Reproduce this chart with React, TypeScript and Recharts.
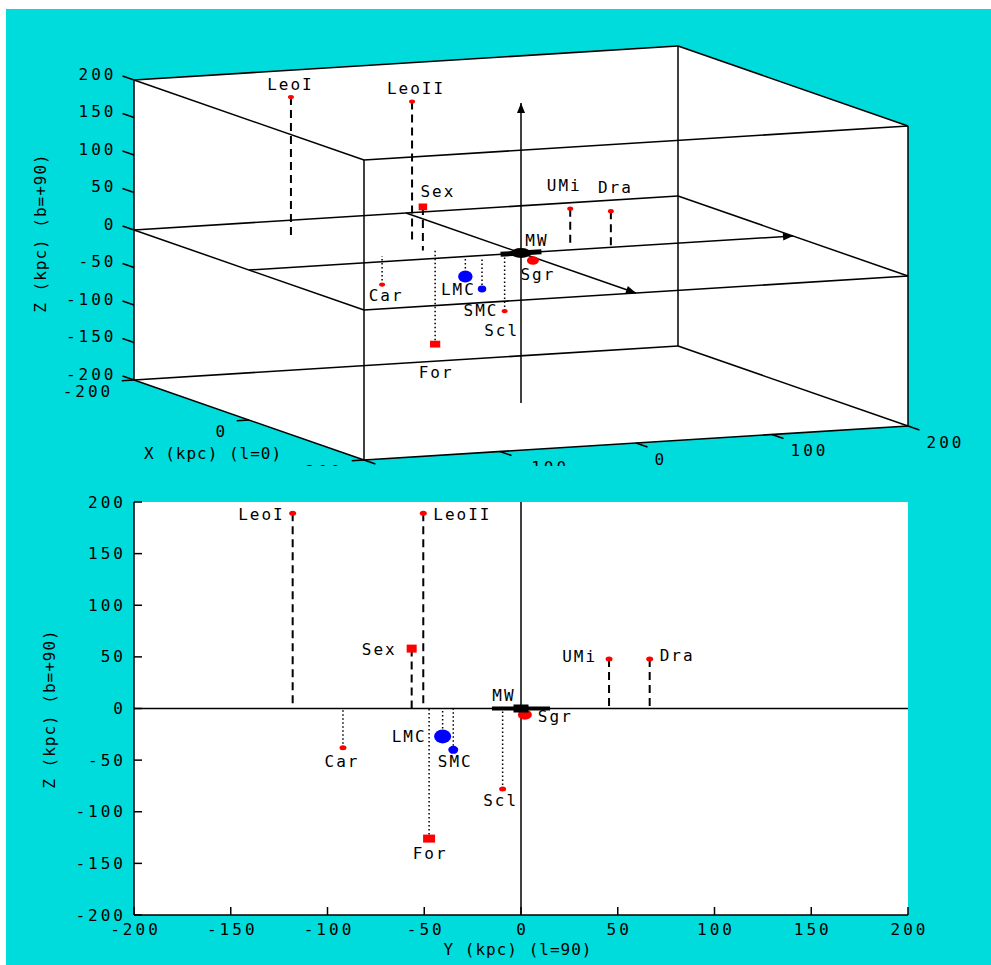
import { ReferenceArea, ReferenceLine, Scatter, ScatterChart, XAxis, YAxis } from 'recharts'

// Galactocentric positions of the Milky Way satellites, kpc
const satellites = ['LeoI', 'LeoII', 'Sex', 'Car', 'LMC', 'SMC', 'For', 'Scl', 'Sgr', 'UMi', 'Dra']
const xKpc = [-121, -70, -37, -24, -1, 15, -37, -6, 16, -22, -1]
const yKpc = [-118, -50.5, -56.5, -92, -40.5, -35, -47.5, -9.5, 2, 45.5, 66.5]
const zKpc = [189, 189, 58, -38, -27, -40, -126, -78, -6, 48, 48]

const sideTicks = [-200, -150, -100, -50, 0, 50, 100, 150, 200]
const boxXTicks = [-200, 0, 200]
const boxYTicks = [-200, -100, 0, 100, 200]
const boxZTicks = [-200, -150, -100, -50, 0, 50, 100, 150, 200]
const BOX = 200
const MW_DISK = 15

const CYAN = '#00dcdc'
const RED = '#ff0000'
const BLUE = '#0000ff'
const MONO = '"DejaVu Sans Mono", "Liberation Mono", monospace'
const labelFont = { fontFamily: MONO, fontSize: 16, letterSpacing: 2, fill: '#000' }
const tickFont = { fontFamily: MONO, fontSize: 16, letterSpacing: 3, fill: '#000' }
const titleFont = { fontFamily: MONO, fontSize: 16, letterSpacing: 1, fill: '#000' }
const axisStroke = { stroke: '#000', strokeWidth: 1.5 }

type Anchor = 'start' | 'middle' | 'end'
type Place = [number, number, Anchor]

const markerStyle: Record<string, { color: string; kind: 'dot' | 'box'; w: number; h: number }> = {
  LeoI: { color: RED, kind: 'dot', w: 7, h: 5 },
  LeoII: { color: RED, kind: 'dot', w: 7, h: 5 },
  Sex: { color: RED, kind: 'box', w: 10, h: 8 },
  Car: { color: RED, kind: 'dot', w: 7, h: 5 },
  LMC: { color: BLUE, kind: 'dot', w: 17, h: 14 },
  SMC: { color: BLUE, kind: 'dot', w: 10, h: 8 },
  For: { color: RED, kind: 'box', w: 12, h: 8 },
  Scl: { color: RED, kind: 'dot', w: 7, h: 5 },
  Sgr: { color: RED, kind: 'dot', w: 14, h: 10 },
  UMi: { color: RED, kind: 'dot', w: 7, h: 5 },
  Dra: { color: RED, kind: 'dot', w: 7, h: 5 },
}

const sideLabel: Record<string, Place> = {
  LeoI: [-8, 1, 'end'], LeoII: [10, 1, 'start'], Sex: [-15, 1, 'end'], Car: [-1, 14, 'middle'],
  LMC: [-16, 0, 'end'], SMC: [2, 12, 'middle'], For: [1, 15, 'middle'], Scl: [-2, 11, 'middle'],
  Sgr: [13, 2, 'start'], UMi: [-12, -2, 'end'], Dra: [10, -3, 'start'], MW: [-17, -13, 'middle'],
}
const boxLabel: Record<string, Place> = {
  LeoI: [-0.5, -13, 'middle'], LeoII: [4, -13, 'middle'], Sex: [15, -15, 'middle'], Car: [4, 11, 'middle'],
  LMC: [-7, 13, 'middle'], SMC: [-1, 22, 'middle'], For: [1, 28, 'middle'], Scl: [-3, 19, 'middle'],
  Sgr: [5, 14, 'middle'], UMi: [-6, -23, 'middle'], Dra: [4.5, -24, 'middle'], MW: [16, -13, 'middle'],
}

// 3-D view: screen units per kpc along each axis (u to the right, v up)
const VIEW = {
  x: { u: 0.575, v: -0.2 },
  y: { u: 1.36, v: 0.085 },
  z: { u: 0, v: 0.75 },
}
const project = (x: number, y: number, z: number) => ({
  u: VIEW.x.u * x + VIEW.y.u * y + VIEW.z.u * z,
  v: VIEW.x.v * x + VIEW.y.v * y + VIEW.z.v * z,
})
const seg = (a: number[], b: number[]) => {
  const p = project(a[0], a[1], a[2])
  const q = project(b[0], b[1], b[2])
  return [{ x: p.u, y: p.v }, { x: q.u, y: q.v }]
}

function satelliteShape(places: Record<string, Place>, shrink: number) {
  return (p: any) => {
    const { cx, cy, payload } = p
    const m = markerStyle[payload.name]
    const [dx, dy, anchor] = places[payload.name]
    const w = m.w * shrink
    const h = m.h * shrink
    return (
      <g>
        {m.kind === 'box'
          ? <rect x={cx - w / 2} y={cy - h / 2} width={w} height={h} fill={m.color} />
          : <ellipse cx={cx} cy={cy} rx={w / 2} ry={h / 2} fill={m.color} />}
        <text x={cx + dx} y={cy + dy} textAnchor={anchor} dominantBaseline="central" style={labelFont}>{payload.name}</text>
      </g>
    )
  }
}

function tickText(dx: number, dy: number, anchor: Anchor) {
  return (p: any) => (
    <text x={p.cx + dx} y={p.cy + dy} textAnchor={anchor} dominantBaseline="central" style={tickFont}>{p.payload.label}</text>
  )
}

function arrowShape(p: any) {
  const { cx, cy, payload } = p
  const [dx, dy] = payload.dir
  const len = 10
  const half = 4
  const bx = cx - dx * len
  const by = cy - dy * len
  return <polygon points={`${cx},${cy} ${bx - dy * half},${by + dx * half} ${bx + dy * half},${by - dx * half}`} fill="#000" />
}

function BoxView() {
  const hull = [[-1, -1, 1], [-1, 1, 1], [1, 1, 1], [1, 1, -1], [1, -1, -1], [-1, -1, -1]].map(([a, b, c]) => project(a * BOX, b * BOX, c * BOX))
  const edges: number[][][] = []
  for (const a of [-BOX, BOX]) {
    for (const b of [-BOX, BOX]) {
      edges.push([[-BOX, a, b], [BOX, a, b]])
      edges.push([[a, -BOX, b], [a, BOX, b]])
      edges.push([[a, b, -BOX], [a, b, BOX]])
    }
    edges.push([[-BOX, a, 0], [BOX, a, 0]])
    edges.push([[a, -BOX, 0], [a, BOX, 0]])
  }
  const axes = [
    { from: [-BOX, 0, 0], to: [BOX, 0, 0], unit: [1, 0, 0] },
    { from: [0, -BOX, 0], to: [0, BOX, 0], unit: [0, 1, 0] },
    { from: [0, 0, -BOX], to: [0, 0, BOX], unit: [0, 0, 1] },
  ]
  const arrows = axes.map(a => {
    const tip = project(a.to[0], a.to[1], a.to[2])
    const d = project(a.unit[0], a.unit[1], a.unit[2])
    const n = Math.hypot(d.u, d.v)
    return { ...tip, dir: [d.u / n, -d.v / n] }
  })
  const pts = satellites.map((name, i) => ({ name, ...project(xKpc[i], yKpc[i], zKpc[i]) }))
  const zTickLabels = boxZTicks.map(t => ({ label: String(t), ...project(-BOX - 20, -BOX, t) }))
  const xTickLabels = boxXTicks.map(t => ({ label: String(t), ...project(t, -BOX - 9, -BOX) }))
  const yTickLabels = boxYTicks.map(t => ({ label: String(t), ...project(BOX + 20, t, -BOX) }))

  return (
    <ScatterChart width={991} height={466} margin={{ top: 0, right: 0, bottom: 0, left: 0 }}>
      <XAxis type="number" dataKey="u" domain={[-521, 470]} allowDataOverflow hide />
      <YAxis type="number" dataKey="v" domain={[-213, 253]} allowDataOverflow hide />
      <Scatter data={hull} line={{ fill: '#fff', stroke: 'none' }} shape={() => <g />} zIndex={-1000} isAnimationActive={false} />
      {edges.map((e, i) => (
        <ReferenceLine key={`e${i}`} segment={seg(e[0], e[1])} stroke="#000" strokeWidth={1.5} ifOverflow="visible" />
      ))}
      {axes.map((a, i) => (
        <ReferenceLine key={`a${i}`} segment={seg(a.from, a.to)} stroke="#000" strokeWidth={1.5} ifOverflow="visible" />
      ))}
      {boxZTicks.map(t => (
        <ReferenceLine key={`zt${t}`} segment={seg([-BOX, -BOX, t], [-BOX - 20, -BOX, t])} stroke="#000" strokeWidth={1.5} ifOverflow="visible" />
      ))}
      {boxXTicks.map(t => (
        <ReferenceLine key={`xt${t}`} segment={seg([t, -BOX, -BOX], [t, -BOX - 9, -BOX])} stroke="#000" strokeWidth={1.5} ifOverflow="visible" />
      ))}
      {boxYTicks.map(t => (
        <ReferenceLine key={`yt${t}`} segment={seg([BOX, t, -BOX], [BOX + 20, t, -BOX])} stroke="#000" strokeWidth={1.5} ifOverflow="visible" />
      ))}
      {satellites.map((n, i) => Math.abs(zKpc[i]) > 10 ? (
        <ReferenceLine
          key={`d${n}`}
          segment={seg([xKpc[i], yKpc[i], zKpc[i]], [xKpc[i], yKpc[i], 0])}
          stroke="#000"
          strokeWidth={zKpc[i] > 0 ? 2 : 1.5}
          strokeDasharray={zKpc[i] > 0 ? '8 5' : '1.5 2.5'}
          ifOverflow="visible"
        />
      ) : null)}
      <ReferenceLine segment={seg([0, -MW_DISK, 0], [0, MW_DISK, 0])} stroke="#000" strokeWidth={5} ifOverflow="visible" />
      <Scatter data={arrows} shape={arrowShape} isAnimationActive={false} />
      <Scatter data={zTickLabels} shape={tickText(-6, -2, 'end')} isAnimationActive={false} />
      <Scatter data={xTickLabels} shape={tickText(-8.5, 11, 'end')} isAnimationActive={false} />
      <Scatter data={yTickLabels} shape={tickText(7, 12, 'start')} isAnimationActive={false} />
      <Scatter data={pts} shape={satelliteShape(boxLabel, 0.85)} isAnimationActive={false} />
      <Scatter
        data={[{ name: 'MW', ...project(0, 0, 0) }]}
        shape={(p: any) => (
          <g>
            <ellipse cx={p.cx} cy={p.cy} rx={10} ry={5} fill="#000" />
            <text x={p.cx + boxLabel.MW[0]} y={p.cy + boxLabel.MW[1]} textAnchor="middle" dominantBaseline="central" style={labelFont}>MW</text>
          </g>
        )}
        isAnimationActive={false}
      />
      <text x={40} y={233} transform="rotate(-90 40 233)" textAnchor="middle" dominantBaseline="central" style={titleFont}>Z (kpc) (b=+90)</text>
      <text x={213} y={453} textAnchor="middle" dominantBaseline="central" style={titleFont}>X (kpc) (l=0)</text>
    </ScatterChart>
  )
}

const BottomTick = (p: any) => (
  <g>
    <line x1={p.x} y1={p.y} x2={p.x} y2={p.y - 8} stroke="#000" strokeWidth={1.5} />
    <text x={p.x + 1.5} y={p.y + 14} textAnchor="middle" dominantBaseline="central" style={tickFont}>{p.payload.value}</text>
  </g>
)
const TopTick = (p: any) => <line x1={p.x} y1={p.y} x2={p.x} y2={p.y + 8} stroke="#000" strokeWidth={1.5} />
const LeftTick = (p: any) => (
  <g>
    <line x1={p.x} y1={p.y} x2={p.x + 8} y2={p.y} stroke="#000" strokeWidth={1.5} />
    <text x={p.x - 8} y={p.y} textAnchor="end" dominantBaseline="central" style={tickFont}>{p.payload.value}</text>
  </g>
)
const RightTick = (p: any) => <line x1={p.x} y1={p.y} x2={p.x - 8} y2={p.y} stroke="#000" strokeWidth={1.5} />

function SideView() {
  const pts = satellites.map((name, i) => ({ name, y: yKpc[i], z: zKpc[i] }))
  return (
    <ScatterChart width={991} height={499} margin={{ top: 36, right: 83, bottom: 0, left: 0 }}>
      <ReferenceArea x1={-BOX} x2={BOX} y1={-BOX} y2={BOX} fill="#fff" fillOpacity={1} stroke="none" zIndex={-1000} ifOverflow="visible" />
      <XAxis type="number" dataKey="y" domain={[-BOX, BOX]} ticks={sideTicks} interval={0} allowDataOverflow height={50}
        tickSize={0} tickMargin={0} tickLine={false} axisLine={axisStroke} tick={BottomTick} />
      <XAxis xAxisId="top" orientation="top" type="number" domain={[-BOX, BOX]} ticks={sideTicks} interval={0} allowDataOverflow height={0}
        tickSize={0} tickMargin={0} tickLine={false} axisLine={axisStroke} tick={TopTick} />
      <YAxis type="number" dataKey="z" domain={[-BOX, BOX]} ticks={sideTicks} interval={0} allowDataOverflow width={134}
        tickSize={0} tickMargin={0} tickLine={false} axisLine={axisStroke} tick={LeftTick} />
      <YAxis yAxisId="right" orientation="right" type="number" domain={[-BOX, BOX]} ticks={sideTicks} interval={0} allowDataOverflow width={0}
        tickSize={0} tickMargin={0} tickLine={false} axisLine={axisStroke} tick={RightTick} />
      <ReferenceLine y={0} stroke="#000" strokeWidth={1.5} />
      <ReferenceLine x={0} stroke="#000" strokeWidth={1.5} />
      {satellites.map((n, i) => Math.abs(zKpc[i]) > 10 ? (
        <ReferenceLine
          key={`d${n}`}
          segment={[{ x: yKpc[i], y: zKpc[i] }, { x: yKpc[i], y: 0 }]}
          stroke="#000"
          strokeWidth={zKpc[i] > 0 ? 2 : 1.5}
          strokeDasharray={zKpc[i] > 0 ? '8 5' : '1.5 2.5'}
        />
      ) : null)}
      <ReferenceLine segment={[{ x: -MW_DISK, y: 0 }, { x: MW_DISK, y: 0 }]} stroke="#000" strokeWidth={4} />
      <Scatter data={pts} shape={satelliteShape(sideLabel, 1)} isAnimationActive={false} />
      <Scatter
        data={[{ name: 'MW', y: 0, z: 0 }]}
        shape={(p: any) => (
          <g>
            <rect x={p.cx - 7.5} y={p.cy - 4} width={15} height={8} fill="#000" />
            <text x={p.cx + sideLabel.MW[0]} y={p.cy + sideLabel.MW[1]} textAnchor="middle" dominantBaseline="central" style={labelFont}>MW</text>
          </g>
        )}
        isAnimationActive={false}
      />
      <text x={49} y={243} transform="rotate(-90 49 243)" textAnchor="middle" dominantBaseline="central" style={titleFont}>Z (kpc) (b=+90)</text>
      <text x={518} y={483} textAnchor="middle" dominantBaseline="central" style={titleFont}>Y (kpc) (l=90)</text>
    </ScatterChart>
  )
}

export default function App() {
  return (
    <div style={{ position: 'absolute', left: 0, top: 0, width: 991, height: 965, background: '#fff', overflow: 'hidden' }}>
      <div style={{ position: 'absolute', left: 6, top: 9, right: 0, bottom: 0, background: CYAN }} />
      <div style={{ position: 'absolute', left: 0, top: 0 }}>
        <BoxView />
      </div>
      <div style={{ position: 'absolute', left: 0, top: 466 }}>
        <SideView />
      </div>
    </div>
  )
}
